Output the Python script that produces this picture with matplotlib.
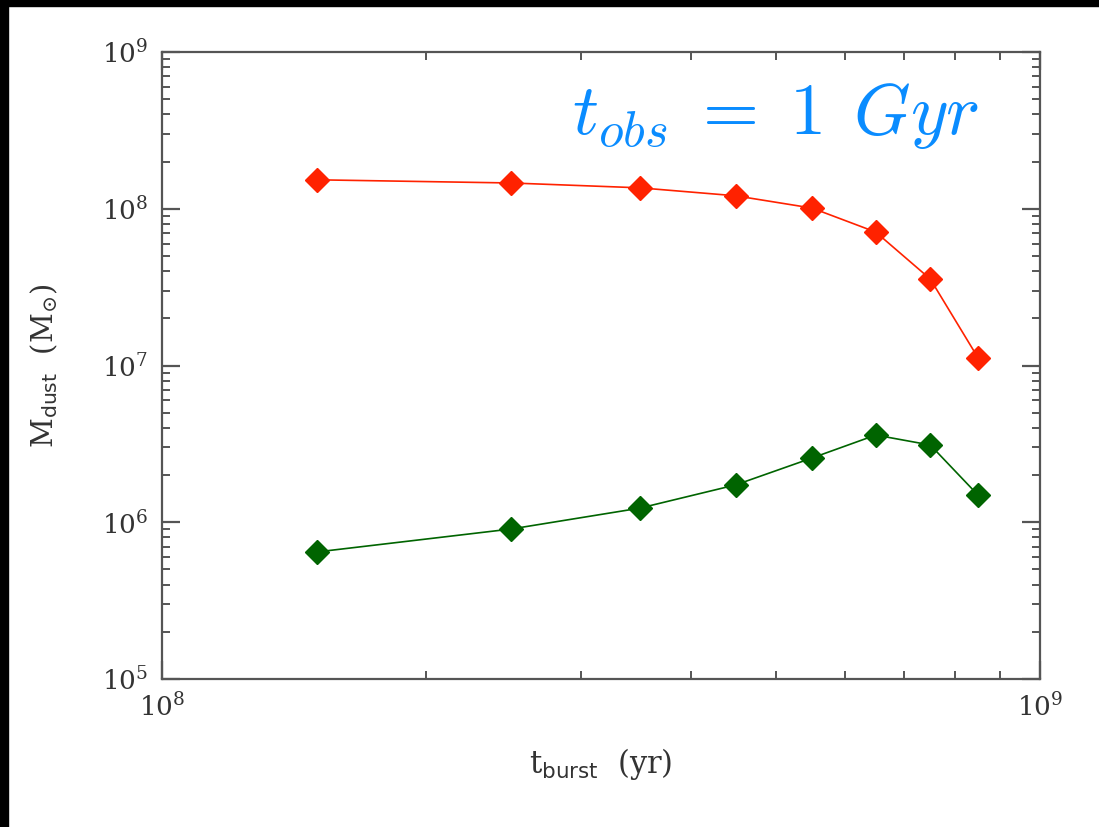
import matplotlib
matplotlib.use("Agg")
import matplotlib.pyplot as plt
from matplotlib.ticker import LogLocator, LogFormatterSciNotation, NullFormatter

# burst times (yr) and dust masses (Msun)
t_burst = [1.5e8, 2.5e8, 3.5e8, 4.5e8, 5.5e8, 6.5e8, 7.5e8, 8.5e8]
m_dust_red = [1.53e8, 1.46e8, 1.36e8, 1.21e8, 1.01e8, 7.1e7, 3.56e7, 1.12e7]
m_dust_green = [6.46e5, 9.06e5, 1.23e6, 1.73e6, 2.57e6, 3.60e6, 3.11e6, 1.49e6]

plt.rcParams['font.family'] = 'DejaVu Serif'
plt.rcParams['mathtext.fontset'] = 'dejavuserif'

fig = plt.figure(figsize=(10.99, 8.27), dpi=100)
fig.patch.set_facecolor('white')

# black frame strips at the top and left of the screenshot
fig.patches.append(plt.Rectangle((0, 1 - 6 / 827), 1, 6 / 827, transform=fig.transFigure,
                                 color='black', zorder=10))
fig.patches.append(plt.Rectangle((0, 0), 8 / 1099, 1, transform=fig.transFigure,
                                 color='black', zorder=10))

ax = fig.add_axes([162 / 1099, 1 - 679 / 827, (1040 - 162) / 1099, (679 - 52) / 827])

ax.plot(t_burst, m_dust_red, color='#ff2200', lw=1.2, marker='D', ms=12.5,
        markeredgecolor='#ff2200')
ax.plot(t_burst, m_dust_green, color='#006400', lw=1.2, marker='D', ms=12.5,
        markeredgecolor='#006400')

ax.set_xscale('log')
ax.set_yscale('log')
ax.set_xlim(1e8, 1e9)
ax.set_ylim(1e5, 1e9)

ax.xaxis.set_major_locator(LogLocator(base=10))
ax.yaxis.set_major_locator(LogLocator(base=10))
ax.xaxis.set_minor_locator(LogLocator(base=10, subs=range(2, 10)))
ax.yaxis.set_minor_locator(LogLocator(base=10, subs=range(2, 10)))
ax.xaxis.set_major_formatter(LogFormatterSciNotation())
ax.yaxis.set_major_formatter(LogFormatterSciNotation())
ax.xaxis.set_minor_formatter(NullFormatter())
ax.yaxis.set_minor_formatter(NullFormatter())

for s in ax.spines.values():
    s.set_color('#555555')
    s.set_linewidth(1.6)

ax.tick_params(which='both', direction='in', top=True, right=True, color='#555555',
               labelsize=19, labelcolor='#333333')
ax.tick_params(which='major', length=13, width=1.6, pad=10)
ax.tick_params(which='minor', length=6, width=1.4)

ax.set_xlabel(r'$\mathregular{t}_{\mathsf{burst}}$  (yr)', fontsize=22, color='#333333',
              labelpad=18)
ax.set_ylabel(r'$\mathregular{M}_{\mathsf{dust}}$  ($\mathregular{M_{\odot}}$)', fontsize=21,
              color='#333333', labelpad=30)

ax.text(0.467, 0.87, r'$t_{obs}\;=\;1\;\,Gyr$', transform=ax.transAxes,
        fontsize=52, color='#0a8cff', math_fontfamily='cm', ha='left', va='baseline')

fig.savefig('out.png', dpi=100)
